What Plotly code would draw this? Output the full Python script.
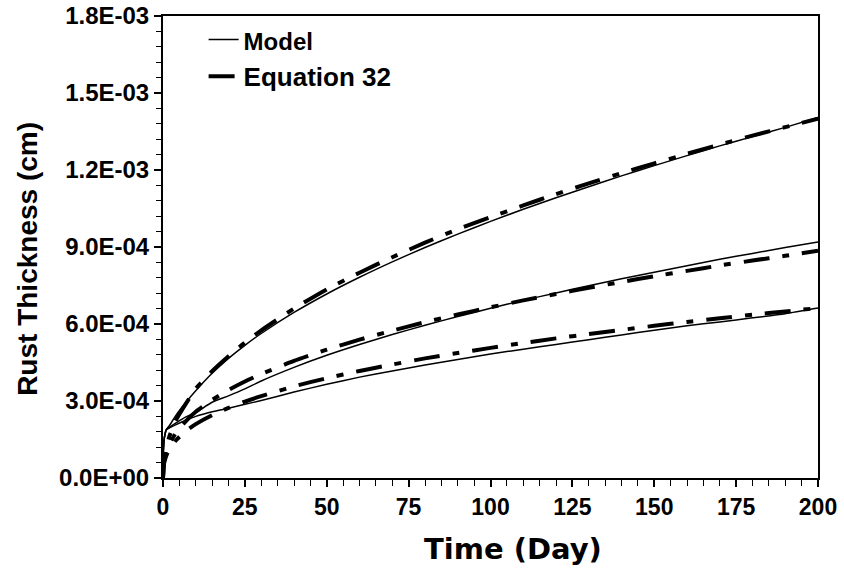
import plotly.graph_objects as go

# ---- data ----
t_model = [0, 0.1, 0.3, 0.6, 1, 2, 4, 7, 10, 15, 20, 25, 30, 40, 50, 60, 70, 80, 90,
           100, 110, 120, 130, 140, 150, 160, 170, 180, 190, 200]
model_top = [3.7e-5, 1.0e-4, 1.45e-4, 1.7e-4, 1.88e-4, 2.05e-4, 2.45e-4, 2.95e-4, 3.4e-4,
             4.08e-4, 4.66e-4, 5.17e-4, 5.63e-4, 6.45e-4, 7.17e-4, 7.82e-4, 8.42e-4,
             8.98e-4, 9.5e-4, 1.0e-3, 1.047e-3, 1.092e-3, 1.135e-3, 1.177e-3, 1.217e-3,
             1.256e-3, 1.294e-3, 1.33e-3, 1.366e-3, 1.405e-3]
model_mid = [3.7e-5, 1.0e-4, 1.45e-4, 1.7e-4, 1.88e-4, 1.98e-4, 2.15e-4, 2.38e-4, 2.55e-4,
             2.95e-4, 3.2e-4, 3.47e-4, 3.78e-4, 4.31e-4, 4.78e-4, 5.2e-4, 5.59e-4,
             5.95e-4, 6.29e-4, 6.61e-4, 6.92e-4, 7.21e-4, 7.49e-4, 7.76e-4, 8.02e-4,
             8.27e-4, 8.52e-4, 8.75e-4, 8.98e-4, 9.2e-4]
model_low = [3.7e-5, 1.0e-4, 1.45e-4, 1.7e-4, 1.88e-4, 1.95e-4, 2.08e-4, 2.25e-4, 2.4e-4,
             2.58e-4, 2.72e-4, 2.87e-4, 3.02e-4, 3.35e-4, 3.65e-4, 3.93e-4, 4.17e-4,
             4.4e-4, 4.62e-4, 4.83e-4, 5.02e-4, 5.2e-4, 5.39e-4, 5.57e-4, 5.76e-4,
             5.93e-4, 6.08e-4, 6.24e-4, 6.4e-4, 6.62e-4]

t_eq = [0, 0.25, 0.5, 1, 2, 4, 7, 10, 15, 20, 25, 30, 40, 50, 60, 70, 80, 90,
        100, 110, 120, 130, 140, 150, 160, 170, 180, 190, 200]
eq_top = [0, 6.3e-5, 8.6e-5, 1.19e-4, 1.64e-4, 2.27e-4, 2.9e-4, 3.48e-4, 4.16e-4, 4.74e-4,
          5.28e-4, 5.75e-4, 6.6e-4, 7.35e-4, 8.0e-4, 8.6e-4, 9.17e-4, 9.69e-4, 1.016e-3,
          1.062e-3, 1.106e-3, 1.148e-3, 1.188e-3, 1.226e-3, 1.263e-3, 1.299e-3,
          1.334e-3, 1.367e-3, 1.40e-3]
eq_mid = [0, 5.6e-5, 7.5e-5, 9.97e-5, 1.33e-4, 1.77e-4, 2.22e-4, 2.58e-4, 3.04e-4, 3.43e-4,
          3.76e-4, 4.05e-4, 4.56e-4, 5.0e-4, 5.39e-4, 5.74e-4, 6.07e-4, 6.37e-4, 6.65e-4,
          6.92e-4, 7.17e-4, 7.41e-4, 7.64e-4, 7.86e-4, 8.07e-4, 8.28e-4, 8.47e-4,
          8.66e-4, 8.85e-4]
eq_low = [0, 5.1e-5, 6.6e-5, 8.7e-5, 1.13e-4, 1.47e-4, 1.83e-4, 2.1e-4, 2.45e-4, 2.73e-4,
          2.98e-4, 3.19e-4, 3.57e-4, 3.89e-4, 4.17e-4, 4.42e-4, 4.66e-4, 4.87e-4, 5.07e-4,
          5.26e-4, 5.44e-4, 5.61e-4, 5.77e-4, 5.93e-4, 6.08e-4, 6.22e-4, 6.36e-4,
          6.49e-4, 6.62e-4]

y_tickvals = [0, 3e-4, 6e-4, 9e-4, 1.2e-3, 1.5e-3, 1.8e-3]
y_ticktext = ["0.0E+00", "3.0E-04", "6.0E-04", "9.0E-04", "1.2E-03", "1.5E-03", "1.8E-03"]
x_tickvals = [0, 25, 50, 75, 100, 125, 150, 175, 200]
x_title = "Time (Day)"
y_title = "Rust Thickness (cm)"

FONT = "Liberation Sans, Arial, sans-serif"
TITLE_FONT_X = "DejaVu Sans, Liberation Sans, sans-serif"

fig = go.Figure()

eq_dash = "26px,13px,7px,13px"
for i, ys in enumerate([eq_top, eq_mid, eq_low]):
    fig.add_trace(go.Scatter(
        x=t_eq, y=ys, mode="lines", name="Equation 32", legendgroup="eq",
        showlegend=(i == 0), legendrank=2,
        line=dict(color="black", width=4, dash=eq_dash, shape="spline", smoothing=0.6),
        hoverinfo="skip"))
for i, ys in enumerate([model_top, model_mid, model_low]):
    fig.add_trace(go.Scatter(
        x=t_model, y=ys, mode="lines", name="<span style='font-size:24px'>Model</span>",
        legendgroup="model", showlegend=(i == 0), legendrank=1,
        line=dict(color="black", width=1.5, shape="spline", smoothing=0.6),
        hoverinfo="skip"))

fig.update_layout(
    width=844, height=580,
    margin=dict(l=163, r=26, t=16, b=102),
    paper_bgcolor="white", plot_bgcolor="white",
    font=dict(family=FONT, color="black"),
    legend=dict(x=0.062, y=1.0, xanchor="left", yanchor="top",
                bgcolor="rgba(0,0,0,0)", tracegroupgap=0,
                font=dict(family=FONT, size=26, color="black", weight="bold"),
                itemwidth=30),
    xaxis=dict(
        range=[0, 200], tickvals=x_tickvals, showgrid=False, zeroline=False,
        showline=True, linecolor="black", linewidth=2, mirror=True, automargin=False,
        ticks="outside", ticklen=7, tickwidth=1.5, tickcolor="black",
        minor=dict(dtick=5, ticks="outside", ticklen=6, tickwidth=1, tickcolor="black"),
        tickfont=dict(family=FONT, size=23, weight="bold")),
    yaxis=dict(
        range=[0, 1.8000001e-3], tickvals=y_tickvals, ticktext=y_ticktext,
        showgrid=False, zeroline=False, automargin=False,
        showline=True, linecolor="black", linewidth=2, mirror=True,
        ticks="outside", ticklen=7, tickwidth=1.5, tickcolor="black",
        minor=dict(dtick=6e-5, ticks="outside", ticklen=5, tickwidth=1, tickcolor="black"),
        tickfont=dict(family=FONT, size=24, weight="bold")),
    annotations=[
        dict(text=x_title, xref="paper", yref="paper", x=0.534, y=-0.153,
             xanchor="center", yanchor="middle", showarrow=False,
             font=dict(family=TITLE_FONT_X, size=29, weight="bold", color="black")),
        dict(text=y_title, xref="paper", yref="paper", x=-0.206, y=0.4745,
             xanchor="center", yanchor="middle", showarrow=False, textangle=-90,
             font=dict(family=FONT, size=28, weight="bold", color="black")),
    ],
)

# remove the default 8px page margin so the figure sits at the window origin
fig.write_html("out.html", config={"displayModeBar": False},
               post_script="document.body.style.margin='0';")
